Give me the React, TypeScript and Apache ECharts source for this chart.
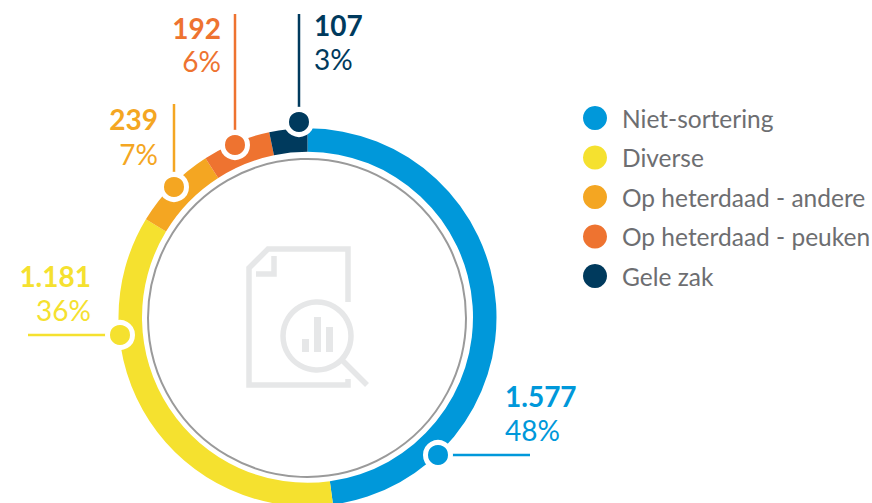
import React, { useEffect, useRef } from "react";
import * as echarts from "echarts";

const categories = ["Niet-sortering", "Diverse", "Op heterdaad - andere", "Op heterdaad - peuken", "Gele zak"];
const values = [1577, 1181, 239, 192, 107];
const valueLabels = ["1.577", "1.181", "239", "192", "107"];
const percentLabels = ["48%", "36%", "7%", "6%", "3%"];
const colors = ["#0098da", "#f5e12f", "#f4a622", "#ee7330", "#003a5d"];

const FONT = "Lato";

// Callout layout: dot centre, line end, text anchor and alignment
const callouts = [
  { dot: [438, 455], end: [530, 455], x: 505, y1: 396, y2: 430, align: "left" },
  { dot: [120, 335], end: [28, 335], x: 91, y1: 276, y2: 310, align: "right" },
  { dot: [174, 187], end: [174, 104], x: 158, y1: 119, y2: 154, align: "right" },
  { dot: [235, 145], end: [235, 14], x: 221, y1: 28, y2: 61, align: "right" },
  { dot: [299, 122], end: [299, 14], x: 314, y1: 25, y2: 59, align: "left" },
];

const ICON = "#e6e7e8";

function iconElements() {
  const stroke = { stroke: ICON, lineWidth: 5.5, fill: "none" };
  const bars = [
    [302, 339, 7, 13],
    [314, 317, 7, 35],
    [326, 327, 7, 25],
  ];
  return [
    {
      type: "polyline",
      shape: { points: [[348, 302], [348, 249], [268, 249], [249, 268], [249, 385], [348, 385], [348, 379]] },
      style: stroke,
    },
    { type: "polyline", shape: { points: [[274, 256], [274, 274], [256, 274]] }, style: stroke },
    { type: "circle", shape: { cx: 317, cy: 336, r: 34 }, style: stroke },
    { type: "line", shape: { x1: 343, y1: 361, x2: 367, y2: 385 }, style: stroke },
    ...bars.map(([x, y, width, height]) => ({ type: "rect", shape: { x, y, width, height }, style: { fill: ICON } })),
  ];
}

function calloutElements() {
  const out: any[] = [];
  callouts.forEach((c, i) => {
    out.push({
      type: "line",
      shape: { x1: c.dot[0], y1: c.dot[1], x2: c.end[0], y2: c.end[1] },
      style: { stroke: colors[i], lineWidth: 2.5 },
    });
    out.push({
      type: "circle",
      z: 101,
      shape: { cx: c.dot[0], cy: c.dot[1], r: 12.5 },
      style: { fill: colors[i], stroke: "#ffffff", lineWidth: 5 },
    });
    out.push({
      type: "text",
      x: c.x,
      y: c.y1,
      style: {
        text: valueLabels[i],
        fill: colors[i],
        font: `bold 28px ${FONT}`,
        align: c.align,
        verticalAlign: "middle",
      },
    });
    out.push({
      type: "text",
      x: c.x,
      y: c.y2,
      style: {
        text: percentLabels[i],
        fill: colors[i],
        font: `28px ${FONT}`,
        align: c.align,
        verticalAlign: "middle",
      },
    });
  });
  return out;
}

export default function App() {
  const ref = useRef<HTMLDivElement>(null);
  useEffect(() => {
    document.body.style.margin = "0";
    document.body.style.overflow = "hidden";
    const chart = echarts.init(ref.current!, undefined, { renderer: "svg" });
    chart.setOption({
      animation: false,
      backgroundColor: "#ffffff",
      color: colors,
      legend: {
        orient: "vertical",
        left: 583,
        top: 105.5,
        padding: 0,
        icon: "circle",
        itemWidth: 24,
        itemHeight: 24,
        itemGap: 14.5,
        selectedMode: false,
        data: categories,
        textStyle: { color: "#6d6e71", fontFamily: FONT, fontSize: 24.5, padding: [0, 0, 0, 10] },
      },
      series: [
        {
          type: "pie",
          center: [307.5, 317.3],
          radius: [165.5, 189],
          startAngle: 90,
          clockwise: true,
          label: { show: false },
          labelLine: { show: false },
          silent: true,
          itemStyle: { borderWidth: 0 },
          data: categories.map((name, i) => ({ name, value: values[i] })),
        },
      ],
      graphic: [
        { type: "circle", z: 100, shape: { cx: 307, cy: 318, r: 159 }, style: { fill: "none", stroke: "#9a9a9a", lineWidth: 2 } },
        ...iconElements().map((e: any) => ({ z: 100, ...e })),
        ...calloutElements().map((e: any) => ({ z: 100, ...e })),
      ],
    });
    return () => chart.dispose();
  }, []);
  return <div ref={ref} style={{ position: "absolute", left: 0, top: 0, width: 872, height: 503 }} />;
}
